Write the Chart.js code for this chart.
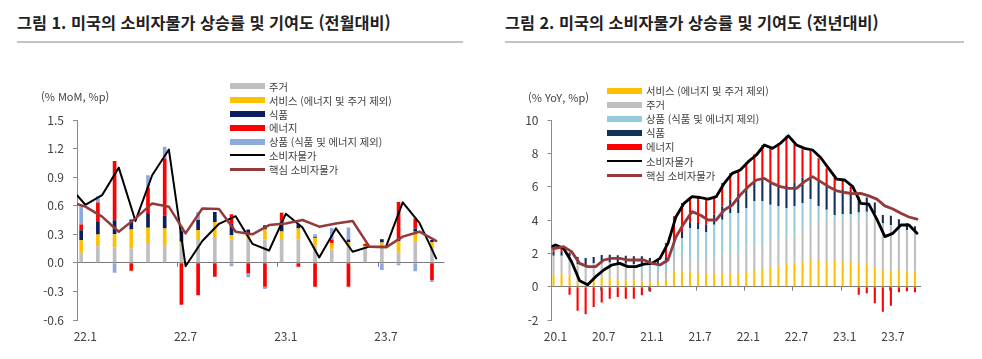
<!DOCTYPE html>
<html lang="ko">
<head>
<meta charset="utf-8">
<script src="https://cdn.jsdelivr.net/npm/chart.js@4.4.1/dist/chart.umd.min.js"></script>
<style>
  body { margin: 0; width: 982px; height: 359px; background: #fff; overflow: hidden;
         font-family: "Noto Sans CJK KR", "Noto Sans", sans-serif; color: #333; }
  .panel { position: absolute; top: 0; width: 491px; height: 359px; }
  .panel canvas { position: absolute; left: 0; top: 0; }
  .title { position: absolute; top: 10px; font-size: 16.3px; font-weight: bold; color: #222; white-space: nowrap; }
  .rule { position: absolute; top: 41px; height: 0; border-top: 2px solid #c4c4c4; }
  .unit { position: absolute; font-size: 11px; line-height: 13px; color: #404040; white-space: nowrap; }
  .legend { position: absolute; font-size: 10.3px; color: #404040; }
  .lg-row { display: flex; align-items: center; white-space: nowrap; }
  .sw { display: inline-block; width: 35px; flex: none; }
</style>
</head>
<body>

<div class="panel" style="left:0">
  <div class="title" style="left:17px">그림 1. 미국의 소비자물가 상승률 및 기여도 (전월대비)</div>
  <div class="rule" style="left:17px; width:446px"></div>
  <canvas id="momChart" width="491" height="359"></canvas>
  <div class="unit" style="left:41px; top:90px">(% MoM, %p)</div>
  <div class="legend" id="momLegend" style="left:230px; top:79.6px"></div>
</div>

<div class="panel" style="left:491px">
  <div class="title" style="left:14px">그림 2. 미국의 소비자물가 상승률 및 기여도 (전년대비)</div>
  <div class="rule" style="left:14px; width:459px"></div>
  <canvas id="yoyChart" width="491" height="359"></canvas>
  <div class="unit" style="left:37px; top:91px">(% YoY, %p)</div>
  <div class="legend" id="yoyLegend" style="left:116px; top:83.5px"></div>
</div>

<script>
// ---- 그림 1: 전월대비 (22.1 ~ 23.10) ----
const momLabels = ['22.1','22.2','22.3','22.4','22.5','22.6','22.7','22.8','22.9','22.10','22.11','22.12',
                   '23.1','23.2','23.3','23.4','23.5','23.6','23.7','23.8','23.9','23.10'];
const momShelter  = [0.105,0.175,0.16,0.15,0.197,0.175,0.197,0.24,0.26,0.245,0.24,0.245,0.24,0.245,0.185,0.14,0.175,0.155,0.18,0.105,0.222,0.15];
const momServices = [0.133,0.122,0.14,0.2,0.171,0.185,0.025,0.105,0.17,0.045,0.06,0.105,0.09,0.115,0.075,0.065,0.045,0.02,0.035,0.125,0.105,0.07];
const momFood     = [0.105,0.133,0.148,0.105,0.144,0.134,0.11,0.105,0.105,0.12,0.05,0.045,0.1,0.045,0.01,0.0,0.025,0.01,0.025,0.025,0.035,0.02];
const momEnergy   = [0.06,0.204,0.622,-0.083,0.278,0.602,-0.44,-0.34,-0.145,0.1,-0.11,-0.25,0.095,-0.04,-0.25,0.04,-0.25,0.015,0.01,0.385,0.105,-0.18];
const momGoods    = [0.203,0.066,-0.105,0,0.13,0.122,0.055,0.085,0,-0.035,-0.04,-0.025,0.005,0,0.03,0.12,0.125,0,-0.075,-0.025,-0.087,-0.02];
// lines start one month earlier (21.12) at the left edge of the axis
const momCpi  = [0.71,0.61,0.71,1.0,0.44,0.92,1.19,-0.035,0.23,0.41,0.49,0.2,0.13,0.515,0.372,0.057,0.362,0.117,0.17,0.17,0.635,0.42,0.047];
const momCore = [0.62,0.59,0.485,0.327,0.467,0.624,0.59,0.31,0.57,0.565,0.327,0.3,0.397,0.414,0.45,0.38,0.414,0.44,0.17,0.163,0.275,0.327,0.23];
const momTicks = [-0.6, 1.5, 0.3];

// ---- 그림 2: 전년대비 (20.1 ~ 23.10) ----
const yoyLabels = ['20.1','20.2','20.3','20.4','20.5','20.6','20.7','20.8','20.9','20.10','20.11','20.12',
                   '21.1','21.2','21.3','21.4','21.5','21.6','21.7','21.8','21.9','21.10','21.11','21.12',
                   '22.1','22.2','22.3','22.4','22.5','22.6','22.7','22.8','22.9','22.10','22.11','22.12',
                   '23.1','23.2','23.3','23.4','23.5','23.6','23.7','23.8','23.9','23.10'];
const yoyServices = [0.72,0.75,0.66,0.25,0.15,0.42,0.56,0.52,0.46,0.38,0.38,0.32,0.26,0.28,0.42,0.96,0.96,0.92,0.82,0.78,0.82,0.82,0.82,0.76,
                     0.92,0.98,1.06,1.12,1.22,1.38,1.38,1.46,1.68,1.58,1.52,1.58,1.52,1.52,1.42,1.38,1.18,1.0,0.96,1.02,0.92,0.92];
const yoyShelter  = [1.13,1.1,1.16,1.1,1.15,0.93,0.74,0.73,0.74,0.77,0.74,0.73,0.64,0.6,0.53,0.76,0.76,0.76,0.84,0.94,1.0,1.1,1.24,1.36,
                     1.5,1.54,1.56,1.6,1.6,1.64,1.74,2.04,2.07,2.27,2.5,2.37,2.48,2.53,2.68,2.77,2.92,2.7,2.69,2.53,2.48,2.33];
const yoyGoods    = [0,0,0,0,0,0.05,0.15,0.2,0.2,0.23,0.23,0.27,0.4,0.42,0.47,0.8,1.2,1.84,1.8,1.54,1.9,2.1,2.36,2.3,
                     2.3,2.6,2.5,2.2,2.0,1.7,1.7,1.52,1.51,0.97,0.6,0.35,0.35,0.3,0.35,0.35,0.3,0.1,0.05,0,0,0];
const yoyFood     = [0.25,0.25,0.23,0.43,0.42,0.38,0.45,0.47,0.48,0.47,0.47,0.5,0.42,0.32,0.3,0.2,0.4,0.34,0.36,0.46,0.6,0.8,0.8,1.18,
                     1.23,1.18,1.33,1.38,1.28,1.38,1.43,1.53,1.34,1.48,1.43,1.42,1.45,1.3,0.95,0.85,0.65,0.5,0.55,0.5,0.4,0.37];
const yoyEnergy   = [0.35,0.2,-0.48,-1.45,-1.65,-1.22,-0.95,-0.72,-0.62,-0.72,-0.72,-0.52,-0.3,0.05,0.9,1.5,1.7,1.5,1.5,1.55,1.1,1.4,1.6,1.4,
                     1.5,1.65,2.05,2.0,2.5,2.95,2.3,1.7,1.55,1.4,1.05,0.8,0.6,0.35,-0.48,-0.4,-1.0,-1.5,-1.15,-0.34,-0.28,-0.34];
// lines start one month earlier (19.12) at the left edge of the axis
const yoyCpi  = [2.4,2.5,2.3,1.5,0.35,0.12,0.6,1.0,1.3,1.4,1.2,1.2,1.35,1.4,1.7,2.6,4.2,5.0,5.4,5.35,5.25,5.4,6.2,6.8,7.0,
                 7.5,7.9,8.5,8.3,8.6,9.05,8.5,8.3,8.2,7.75,7.1,6.45,6.4,6.0,5.0,4.95,4.05,3.0,3.2,3.7,3.7,3.2];
const yoyCore = [2.3,2.3,2.4,2.1,1.4,1.2,1.2,1.6,1.7,1.7,1.6,1.6,1.6,1.4,1.3,1.6,3.0,3.8,4.5,4.3,4.0,4.0,4.6,4.9,5.5,
                 6.0,6.4,6.5,6.2,6.0,5.9,5.9,6.3,6.6,6.3,6.0,5.75,5.65,5.58,5.6,5.45,5.25,4.85,4.66,4.4,4.18,4.05];
const yoyTicks = [-2, 10, 2];

Chart.defaults.font.family = "'Noto Sans CJK KR', 'Noto Sans', sans-serif";
const AXIS = '#8c8c8c';
const TXT = '#404040';

// line values -> points on a second linear x axis; first value sits on the axis edge
function linePoints(arr) {
  return arr.map((v, i) => ({ x: i === 0 ? -0.5 : i - 1, y: v }));
}

function barSet(label, data, color, pct) {
  return { label, data, backgroundColor: color, borderWidth: 0, order: 3,
           barPercentage: pct, categoryPercentage: 1 };
}

function lineSet(label, data, color, width, order) {
  return { type: 'line', label, data: linePoints(data), xAxisID: 'xl', stack: label,
           borderColor: color, backgroundColor: color, borderWidth: width,
           pointRadius: 0, tension: 0, order, borderJoinStyle: 'round', borderCapStyle: 'round' };
}

// small tick marks on the zero line, between categories every 6 months
const zeroTicks = {
  id: 'zeroTicks',
  afterDatasetsDraw(chart) {
    const x = chart.scales.x, y = chart.scales.y, ctx = chart.ctx;
    const y0 = y.getPixelForValue(0);
    const half = (x.getPixelForValue(1) - x.getPixelForValue(0)) / 2;
    ctx.save();
    ctx.strokeStyle = '#7a7a7a';
    ctx.lineWidth = 1;
    for (let i = 6; i < chart.data.labels.length; i += 6) {
      const px = Math.round(x.getPixelForValue(i) - half) + 0.5;
      ctx.beginPath(); ctx.moveTo(px, y0); ctx.lineTo(px, y0 + 4); ctx.stroke();
    }
    ctx.restore();
  }
};

function makeChart(id, labels, datasets, ticks, box) {
  const fmt = ticks[2] < 1 ? (v => v.toFixed(1)) : (v => String(v));
  return new Chart(document.getElementById(id), {
    type: 'bar',
    data: { labels, datasets },
    plugins: [zeroTicks],
    options: {
      responsive: false,
      animation: false,
      layout: { padding: { top: box.top, right: box.right, left: 0, bottom: 0 } },
      plugins: { legend: { display: false }, tooltip: { enabled: false } },
      scales: {
        x: {
          stacked: true,
          grid: { display: false, drawTicks: false },
          border: { display: false },
          ticks: {
            autoSkip: false, maxRotation: 0, padding: 9, color: TXT, font: { size: 12 },
            callback(v, i) { return i % 6 === 0 ? this.getLabelForValue(v) : ''; }
          },
          afterFit(s) { s.height = box.bottom; }
        },
        xl: {
          type: 'linear', position: 'bottom', offset: false,
          min: -0.5, max: labels.length - 0.5,
          grid: { display: false, drawTicks: false, offset: false },
          border: { display: false },
          ticks: { display: false },
          afterFit(s) { s.height = 0; }
        },
        y: {
          stacked: true,
          min: ticks[0], max: ticks[1],
          ticks: { stepSize: ticks[2], padding: 9, color: TXT, font: { size: 12 }, callback: fmt },
          grid: {
            color: c => Math.abs(c.tick.value) < 1e-9 ? '#7a7a7a' : 'rgba(0,0,0,0)',
            tickColor: AXIS, tickLength: 4, lineWidth: 1
          },
          border: { color: AXIS },
          afterFit(s) { s.width = box.left; }
        }
      }
    }
  });
}

function htmlLegend(chart, el, rowH, barH) {
  chart.data.datasets.forEach(ds => {
    const row = document.createElement('div');
    row.className = 'lg-row';
    row.style.height = rowH + 'px';
    const sw = document.createElement('span');
    sw.className = 'sw';
    sw.style.height = (ds.type === 'line' ? ds.borderWidth : barH) + 'px';
    sw.style.background = ds.type === 'line' ? ds.borderColor : ds.backgroundColor;
    sw.style.marginRight = '4px';
    const t = document.createElement('span');
    t.textContent = ds.label;
    row.appendChild(sw);
    row.appendChild(t);
    el.appendChild(row);
  });
}

const momChart = makeChart('momChart', momLabels, [
  barSet('주거', momShelter, '#bfbfbf', 0.44),
  barSet('서비스 (에너지 및 주거 제외)', momServices, '#ffc000', 0.44),
  barSet('식품', momFood, '#0b1f5e', 0.44),
  barSet('에너지', momEnergy, '#ff0000', 0.44),
  barSet('상품 (식품 및 에너지 제외)', momGoods, '#8eaadc', 0.44),
  lineSet('소비자물가', momCpi, '#000000', 2, 2),
  lineSet('핵심 소비자물가', momCore, '#953a3a', 2.5, 1)
], momTicks, { top: 120, right: 46.5, left: 77, bottom: 39 });

const yoyChart = makeChart('yoyChart', yoyLabels, [
  barSet('서비스 (에너지 및 주거 제외)', yoyServices, '#ffc000', 0.52),
  barSet('주거', yoyShelter, '#bfbfbf', 0.52),
  barSet('상품 (식품 및 에너지 제외)', yoyGoods, '#93cddd', 0.52),
  barSet('식품', yoyFood, '#12305a', 0.52),
  barSet('에너지', yoyEnergy, '#ff0000', 0.52),
  lineSet('소비자물가', yoyCpi, '#000000', 2.8, 2),
  lineSet('핵심 소비자물가', yoyCore, '#953a3a', 2.8, 1)
], yoyTicks, { top: 120, right: 61, left: 60.5, bottom: 39 });

htmlLegend(momChart, document.getElementById('momLegend'), 13.8, 6);
htmlLegend(yoyChart, document.getElementById('yoyLegend'), 14.1, 6);
</script>
</body>
</html>
